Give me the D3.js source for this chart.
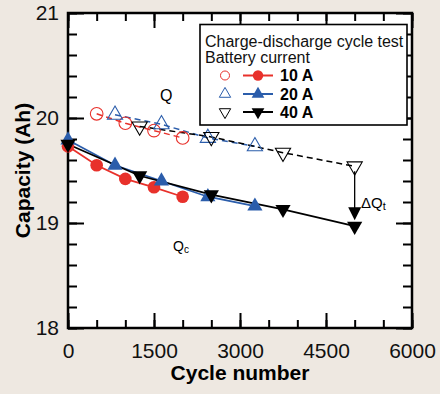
<!DOCTYPE html>
<html>
<head>
<meta charset="utf-8">
<script src="https://cdn.jsdelivr.net/npm/d3@7"></script>
<style>
  html, body { margin: 0; padding: 0; background: #eee8e1; }
  svg { display: block; font-family: 'Liberation Sans', Arial, sans-serif; }
</style>
</head>
<body>
<div id="chart"></div>
<script>
// cycle number vs capacity (Ah)
const red10Filled = [[0, 19.73], [500, 19.55], [1000, 19.42], [1500, 19.34], [2000, 19.25]];
const red10Open = [[500, 20.04], [1000, 19.95], [1500, 19.88], [2000, 19.81]];
const blue20Filled = [[0, 19.79], [820, 19.55], [1630, 19.40], [2440, 19.25], [3260, 19.16]];
const blue20Open = [[820, 20.03], [1630, 19.94], [2440, 19.81], [3260, 19.73]];
const black40Filled = [[0, 19.75], [1250, 19.45], [2500, 19.27], [3750, 19.13], [5000, 18.97]];
const black40Open = [[1250, 19.92], [2500, 19.82], [3750, 19.67], [5000, 19.54]];

const xMajorTicks = [0, 1500, 3000, 4500, 6000];
const xMinorTicks = d3.range(0, 6001, 500);
const yMajorTicks = [18, 19, 20, 21];
const yMinorTicks = d3.range(18, 21.01, 0.2);

const legendTitle = ['Charge-discharge cycle test', 'Battery current'];
const legendLabels = ['10 A', '20 A', '40 A'];

const width = 440;
const height = 394;
const margin = { top: 13, right: 28, bottom: 66, left: 68 };

const RED = '#e8312b';
const BLUE = '#2b5dab';
const BLACK = '#000';

const svg = d3.select('#chart')
  .append('svg')
  .attr('width', width)
  .attr('height', height);

const x = d3.scaleLinear().domain([0, 6000]).range([margin.left, width - margin.right]);
const y = d3.scaleLinear().domain([18, 21]).range([height - margin.bottom, margin.top]);

// plot background
svg.append('rect')
  .attr('x', x(0)).attr('y', y(21))
  .attr('width', x(6000) - x(0)).attr('height', y(18) - y(21))
  .attr('fill', '#fff');

// axes (ticks point inward on all four sides)
function styleAxis(g) {
  g.select('.domain').remove();
  g.selectAll('line').attr('stroke', '#000').attr('stroke-width', 2);
  g.selectAll('text').attr('font-size', '21px').attr('fill', '#111')
    .attr('font-family', "'Liberation Sans', Arial, sans-serif");
}

svg.append('g')
  .attr('transform', `translate(0,${y(18)})`)
  .call(d3.axisBottom(x).tickValues(xMinorTicks).tickSize(-8).tickFormat(''))
  .call(styleAxis);
svg.append('g')
  .attr('transform', `translate(0,${y(18)})`)
  .call(d3.axisBottom(x).tickValues(xMajorTicks).tickSize(-15).tickPadding(15).tickFormat(d3.format('d')))
  .call(styleAxis);
svg.append('g')
  .attr('transform', `translate(0,${y(21)})`)
  .call(d3.axisTop(x).tickValues(xMinorTicks).tickSize(-8).tickFormat(''))
  .call(styleAxis);
svg.append('g')
  .attr('transform', `translate(0,${y(21)})`)
  .call(d3.axisTop(x).tickValues(xMajorTicks).tickSize(-15).tickFormat(''))
  .call(styleAxis);

svg.append('g')
  .attr('transform', `translate(${x(0)},0)`)
  .call(d3.axisLeft(y).tickValues(yMinorTicks).tickSize(-9).tickFormat(''))
  .call(styleAxis);
svg.append('g')
  .attr('transform', `translate(${x(0)},0)`)
  .call(d3.axisLeft(y).tickValues(yMajorTicks).tickSize(-16).tickPadding(9).tickFormat(d3.format('d')))
  .call(styleAxis);
svg.append('g')
  .attr('transform', `translate(${x(6000)},0)`)
  .call(d3.axisRight(y).tickValues(yMinorTicks).tickSize(-9).tickFormat(''))
  .call(styleAxis);
svg.append('g')
  .attr('transform', `translate(${x(6000)},0)`)
  .call(d3.axisRight(y).tickValues(yMajorTicks).tickSize(-16).tickFormat(''))
  .call(styleAxis);

// frame
svg.append('rect')
  .attr('x', x(0)).attr('y', y(21))
  .attr('width', x(6000) - x(0)).attr('height', y(18) - y(21))
  .attr('fill', 'none').attr('stroke', '#000').attr('stroke-width', 2.5);

// axis titles
svg.append('text')
  .attr('x', (x(0) + x(6000)) / 2).attr('y', 380)
  .attr('text-anchor', 'middle')
  .attr('font-size', '21px').attr('font-weight', 'bold')
  .text('Cycle number');
svg.append('text')
  .attr('transform', `translate(30,${(y(18) + y(21)) / 2}) rotate(-90)`)
  .attr('text-anchor', 'middle')
  .attr('font-size', '21px').attr('font-weight', 'bold')
  .text('Capacity (Ah)');

// series
const solidLine = d3.line().x((d) => x(d[0])).y((d) => y(d[1]));
const dashLine = d3.line().x((d) => x(d[0])).y((d) => y(d[1]));

const series = [
  { open: red10Open, filled: red10Filled, color: RED, shape: 'circle' },
  { open: blue20Open, filled: blue20Filled, color: BLUE, shape: 'up' },
  { open: black40Open, filled: black40Filled, color: BLACK, shape: 'down' },
];

function symbolPath(shape) {
  if (shape === 'circle') return d3.symbol(d3.symbolCircle, 125)();
  return d3.symbol(d3.symbolTriangle, 100)();
}
function rot(shape) { return shape === 'down' ? ' rotate(180)' : ''; }

series.forEach((s) => {
  svg.append('path')
    .attr('d', dashLine(s.open))
    .attr('fill', 'none').attr('stroke', s.color)
    .attr('stroke-width', 1.5).attr('stroke-dasharray', '6,4');
  svg.append('path')
    .attr('d', solidLine(s.filled))
    .attr('fill', 'none').attr('stroke', s.color).attr('stroke-width', 1.8);
});

series.forEach((s) => {
  svg.selectAll(null)
    .data(s.open)
    .enter()
    .append('path')
    .attr('transform', (d) => `translate(${x(d[0])},${y(d[1])})${rot(s.shape)}`)
    .attr('d', symbolPath(s.shape))
    .attr('fill', 'none').attr('stroke', s.color).attr('stroke-width', 1.1);
});
series.forEach((s) => {
  svg.selectAll(null)
    .data(s.filled)
    .enter()
    .append('path')
    .attr('transform', (d) => `translate(${x(d[0])},${y(d[1])})${rot(s.shape)}`)
    .attr('d', symbolPath(s.shape))
    .attr('fill', s.color);
});

// ΔQt arrow between open and filled 40 A points at the last cycle
const lastOpen = black40Open[black40Open.length - 1];
const lastFilled = black40Filled[black40Filled.length - 1];
const ax = x(lastOpen[0]);
const yTop = y(lastOpen[1]) + 5;
const yTip = y(lastFilled[1]) - 6;
svg.append('line')
  .attr('x1', ax).attr('x2', ax)
  .attr('y1', yTop).attr('y2', yTip - 10)
  .attr('stroke', '#000').attr('stroke-width', 1.3);
svg.append('path')
  .attr('d', `M${ax - 6.5},${yTip - 13} L${ax + 6.5},${yTip - 13} L${ax},${yTip} Z`)
  .attr('fill', '#000');

// annotations
const qText = svg.append('text').attr('x', 160).attr('y', 101).attr('font-size', '16px');
qText.append('tspan').text('Q');
const qcText = svg.append('text').attr('x', 173).attr('y', 251).attr('font-size', '14px');
qcText.append('tspan').text('Q');
qcText.append('tspan').attr('font-size', '10px').attr('dy', 2).text('c');
const dqText = svg.append('text').attr('x', 361).attr('y', 208).attr('font-size', '15px');
dqText.append('tspan').text('ΔQ');
dqText.append('tspan').attr('font-size', '11px').attr('dy', 2).text('t');

// legend
const legend = svg.append('g');
legend.append('rect')
  .attr('x', 200).attr('y', 24.5).attr('width', 207).attr('height', 100.5)
  .attr('fill', '#fff').attr('stroke', '#000').attr('stroke-width', 1.6);
legendTitle.forEach((t, i) => {
  legend.append('text')
    .attr('x', 205).attr('y', 46.5 + i * 16.3)
    .attr('font-size', '16px').attr('fill', '#111')
    .text(t);
});
const rowY = [75.5, 94, 112];
series.forEach((s, i) => {
  const ry = rowY[i];
  legend.append('path')
    .attr('transform', `translate(225,${ry})${rot(s.shape)}`)
    .attr('d', s.shape === 'circle' ? d3.symbol(d3.symbolCircle, 64)() : d3.symbol(d3.symbolTriangle, 56)())
    .attr('fill', 'none').attr('stroke', s.color).attr('stroke-width', 1);
  legend.append('line')
    .attr('x1', 243).attr('x2', 273).attr('y1', ry).attr('y2', ry)
    .attr('stroke', s.color).attr('stroke-width', 2);
  legend.append('path')
    .attr('transform', `translate(258,${ry})${rot(s.shape)}`)
    .attr('d', s.shape === 'circle' ? d3.symbol(d3.symbolCircle, 85)() : d3.symbol(d3.symbolTriangle, 70)())
    .attr('fill', s.color);
  legend.append('text')
    .attr('x', 280).attr('y', ry + 5.5)
    .attr('font-size', '16px').attr('font-weight', 'bold')
    .text(legendLabels[i]);
});
</script>
</body>
</html>
